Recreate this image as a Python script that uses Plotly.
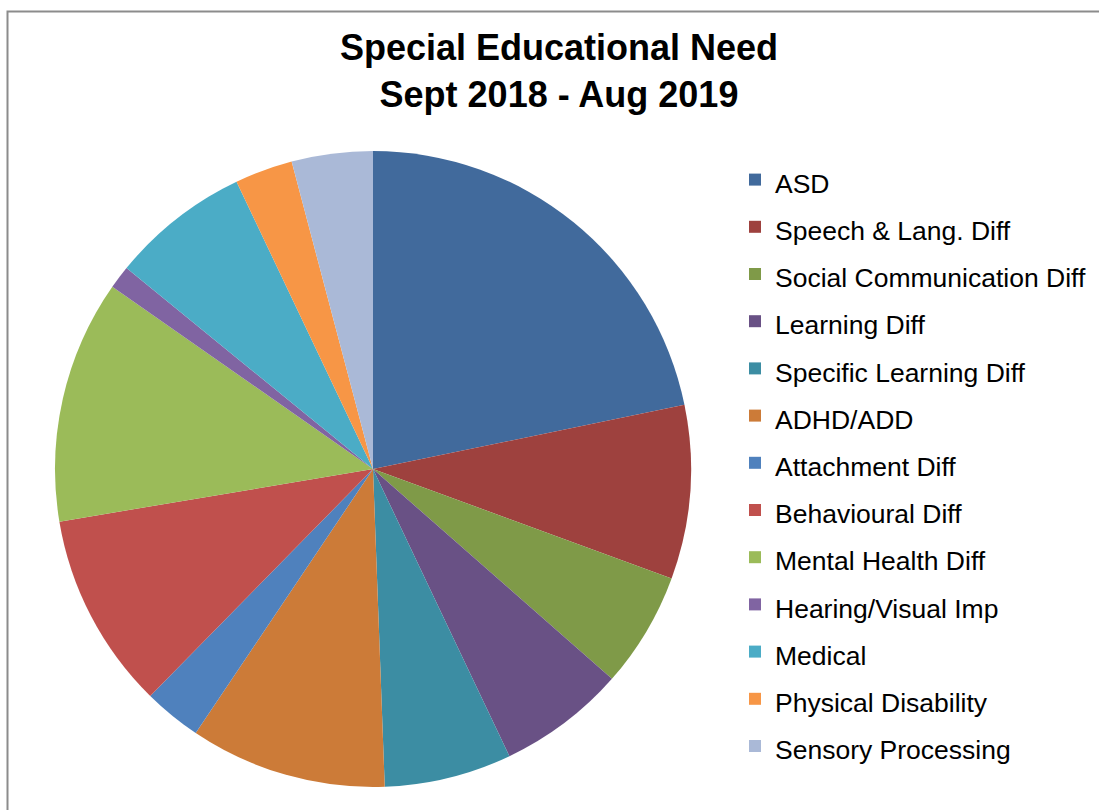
import plotly.graph_objects as go

categories = ["ASD", "Speech & Lang. Diff", "Social Communication Diff", "Learning Diff",
              "Specific Learning Diff", "ADHD/ADD", "Attachment Diff", "Behavioural Diff",
              "Mental Health Diff", "Hearing/Visual Imp", "Medical", "Physical Disability",
              "Sensory Processing"]
values = [37, 15, 10, 11, 11, 17, 5, 17, 21, 2, 12, 5, 7]
colors = ["#416A9C", "#9E413E", "#7F9A48", "#695185", "#3C8DA3", "#CC7B38", "#4F81BD",
          "#C0504D", "#9BBB59", "#8064A2", "#4BACC6", "#F79646", "#AAB9D7"]

W, H = 1099, 810
cx, cy, r = 373, 469, 318

labels = ['<span style="font-size:26.5px">%s</span>' % c for c in categories]

fig = go.Figure(go.Pie(
    labels=labels, values=values, sort=False, direction="clockwise", rotation=0,
    marker=dict(colors=colors, line=dict(width=0)),
    textinfo="none", hoverinfo="label+value",
    domain=dict(x=[(cx - r) / W, (cx + r) / W], y=[1 - (cy + r) / H, 1 - (cy - r) / H]),
))

fig.update_layout(
    width=W, height=H,
    margin=dict(l=0, r=0, t=0, b=0),
    paper_bgcolor="white",
    font=dict(family="Liberation Sans, Arial, sans-serif", color="black"),
    title=dict(text="<b>Special Educational Need<br>Sept 2018 - Aug 2019</b>",
               x=559 / W, xanchor="center", y=1 - 60 / H, yanchor="middle",
               font=dict(size=36, family="Liberation Sans, Arial, sans-serif", color="black")),
    legend=dict(x=735 / W, xanchor="left", y=1 - 151 / H, yanchor="top",
                font=dict(size=34, color="black"), itemwidth=30,
                bgcolor="rgba(0,0,0,0)"),
    shapes=[dict(type="rect", xref="paper", yref="paper",
                 x0=7.5 / W, x1=1.05, y0=-0.05, y1=1 - 11.5 / H,
                 line=dict(color="#8c8c8c", width=2))],
)

fig.write_html("out.html")
